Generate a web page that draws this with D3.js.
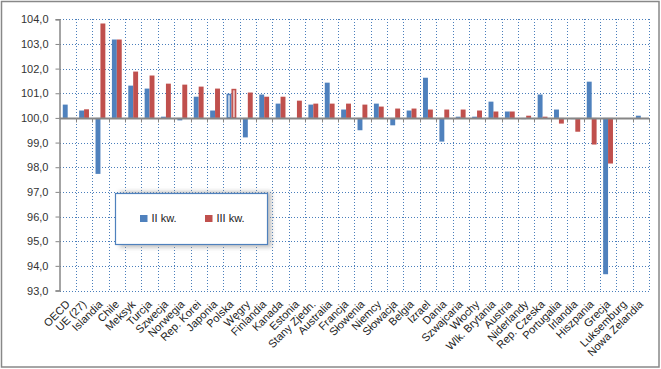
<!DOCTYPE html>
<html><head><meta charset="utf-8">
<script src="https://cdn.jsdelivr.net/npm/d3@7"></script>
<style>body{margin:0;background:#fff}svg{display:block;font-family:"Liberation Sans",Arial,sans-serif}</style>
</head><body>
<svg id="c" width="661" height="369"></svg>
<script>
const categories = ["OECD","UE (27)","Islandia","Chile","Meksyk","Turcja","Szwecja","Norwegia","Rep. Korei","Japonia","Polska","Węgry","Finlandia","Kanada","Estonia","Stany Zjedn.","Australia","Francja","Słowenia","Niemcy","Słowacja","Belgia","Izrael","Dania","Szwajcaria","Włochy","Wlk. Brytania","Austria","Niderlandy","Rep. Czeska","Portugalia","Irlandia","Hiszpania","Grecja","Luksemburg","Nowa Zelandia"];
const seriesNames = ["II kw.","III kw."];
const q2 = [100.54,100.30,97.73,103.18,101.31,101.19,100.05,99.90,100.86,100.30,100.95,99.21,100.95,100.58,null,100.54,101.43,100.34,99.50,100.58,99.70,100.30,101.63,99.04,100.05,100.05,100.66,100.26,99.95,100.95,100.34,99.95,101.47,93.66,null,100.09];
const q3 = [null,100.35,103.83,103.18,101.88,101.72,101.39,101.35,101.27,101.19,101.15,101.03,100.86,100.86,100.70,100.58,100.58,100.58,100.54,100.46,100.38,100.38,100.34,100.34,100.34,100.30,100.26,100.26,100.09,100.05,99.77,99.44,98.92,98.15,null,null];
const yTicks = [93,94,95,96,97,98,99,100,101,102,103,104];
const highlight = "Polska";

const svg = d3.select("#c");
const L = 59.5, R = 649, T = 19.3, B = 290.5;
const x = d3.scaleBand().domain(categories).range([L, R]).paddingInner(0).paddingOuter(0);
const xs = d3.scaleBand().domain(seriesNames).range([0, x.bandwidth()]).paddingInner(0).paddingOuter(0.667);
const y = d3.scaleLinear().domain([93,104]).range([B, T]);
const colors = ["#4f81bd","#c0504d"];
const lightColors = ["#b9cde5","#e6b9b8"];
const gridColor = "#4a7ebb";

// outer border
svg.append("rect").attr("x",1.5).attr("y",1.5).attr("width",657.5).attr("height",365.5)
  .attr("fill","#fff").attr("stroke","#888").attr("stroke-width",1.5);

// horizontal gridlines
svg.append("g").attr("shape-rendering","crispEdges").selectAll("line").data(yTicks.filter(d=>d!==100)).join("line")
  .attr("x1",L).attr("x2",R).attr("y1",d=>Math.round(y(d))+0.5).attr("y2",d=>Math.round(y(d))+0.5)
  .attr("stroke",gridColor).attr("stroke-width",1).attr("stroke-dasharray","1,2");
// vertical gridlines
const bounds = categories.map(c=>x(c)).concat([R]).slice(1);
svg.append("g").attr("shape-rendering","crispEdges").selectAll("line").data(bounds).join("line")
  .attr("x1",d=>Math.round(d)+0.5).attr("x2",d=>Math.round(d)+0.5).attr("y1",T).attr("y2",B)
  .attr("stroke",gridColor).attr("stroke-width",1).attr("stroke-dasharray","1,2");

// bars
const data = [];
categories.forEach((c,i)=>{
  [q2[i],q3[i]].forEach((v,s)=>{ if(v!==null) data.push({c, s, v}); });
});
svg.append("g").selectAll("rect").data(data).join("rect")
  .attr("x",d=>x(d.c)+xs(seriesNames[d.s]) + (d.c===highlight?0.75:0))
  .attr("width",d=>xs.bandwidth() - (d.c===highlight?1.5:0))
  .attr("y",d=>Math.min(y(d.v),y(100)))
  .attr("height",d=>Math.abs(y(d.v)-y(100)))
  .attr("fill",d=>d.c===highlight?lightColors[d.s]:colors[d.s])
  .attr("stroke",d=>d.c===highlight?colors[d.s]:"none")
  .attr("stroke-width",1.5);

// y axis
const yAxis = svg.append("g").attr("transform",`translate(${L},0)`)
  .call(d3.axisLeft(y).tickValues(yTicks).tickSize(4).tickPadding(7).tickFormat(d=>d3.format(".1f")(d).replace(".",",")));
yAxis.select(".domain").attr("stroke","#868686").attr("stroke-width",1.5);
yAxis.selectAll(".tick line").attr("stroke","#868686");
yAxis.selectAll("text").attr("font-size",11).attr("fill","#333").attr("font-family","Liberation Sans, Arial, sans-serif");

// category axis at 100
const zy = Math.round(y(100))+0.5;
svg.append("line").attr("x1",L).attr("x2",R).attr("y1",zy).attr("y2",zy).attr("stroke","#868686").attr("stroke-width",2);
svg.append("g").selectAll("line").data(bounds).join("line")
  .attr("x1",d=>Math.round(d)+0.5).attr("x2",d=>Math.round(d)+0.5).attr("y1",zy).attr("y2",zy+4)
  .attr("stroke","#868686");

// category labels
svg.append("g").selectAll("text").data(categories).join("text")
  .attr("transform",d=>`translate(${x(d)+x.bandwidth()/2+3},${305}) rotate(-45)`)
  .attr("text-anchor","end").attr("font-size",11).attr("fill","#222").text(d=>d);

// legend
const lg = svg.append("g");
const lx=115.5, ly=193.5, lw=152, lh=51;
lg.append("rect").attr("x",lx+4).attr("y",ly-2).attr("width",lw).attr("height",lh+5).attr("fill","#999").attr("opacity",0.6).style("filter","blur(2px)");
lg.append("rect").attr("x",lx).attr("y",ly).attr("width",lw).attr("height",lh).attr("fill","#fff").attr("stroke","#4f81bd").attr("stroke-width",1.2);
const lxPos = [140, 205];
seriesNames.forEach((n,i)=>{
  lg.append("rect").attr("x",lxPos[i]).attr("y",215).attr("width",7.5).attr("height",7).attr("fill",colors[i]);
  lg.append("text").attr("x",lxPos[i]+11.5).attr("y",222).attr("font-size",11).attr("fill","#222").text(n);
});
</script>
</body></html>
